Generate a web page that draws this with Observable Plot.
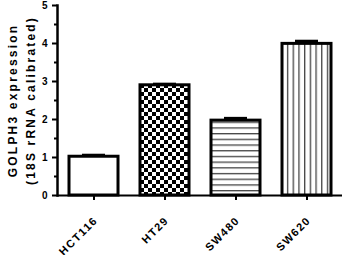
<!DOCTYPE html>
<html><head><meta charset="utf-8">
<script src="https://cdn.jsdelivr.net/npm/d3@7"></script>
<script src="https://cdn.jsdelivr.net/npm/@observablehq/plot@0.6"></script>
<style>body{margin:0;background:#fff} svg{overflow:visible}</style>
</head><body><div id="chart"></div>
<script>
const categories = ["HCT116", "HT29", "SW480", "SW620"];
const values = [1.02, 2.9, 1.97, 3.99];
const errors = [0.04, 0.03, 0.06, 0.07];
const fills = ["white", "url(#pCheck)", "url(#pHoriz)", "url(#pVert)"];
const yTicks = [0, 1, 2, 3, 4, 5];
const yMinorTicks = [0.5, 1.5, 2.5, 3.5, 4.5];
const yLabel = "GOLPH3 expression\n(18S rRNA calibrated)";

const data = categories.map((c, i) => ({cat: c, v: values[i], e: errors[i], top: values[i] + errors[i], fill: fills[i]}));

const chart = Plot.plot({
  width: 346, height: 255,
  marginLeft: 57, marginRight: 4, marginTop: 5, marginBottom: 60,
  style: {fontFamily: "'Liberation Sans', Arial, sans-serif", fontWeight: "bold", fontSize: "10px", color: "#000", background: "#fff"},
  x: {domain: categories, paddingInner: 0.31, paddingOuter: 0.16, label: null},
  y: {domain: [0, 5], label: null},
  color: {type: "identity"},
  marks: [
    Plot.barY(data, {x: "cat", y: "v", fill: "fill", stroke: "black", strokeWidth: 3}),
    Plot.ruleX(data, {x: "cat", y1: "v", y2: "top", stroke: "black", strokeWidth: 2}),
    Plot.tickY(data, {x: "cat", y: "top", stroke: "black", strokeWidth: 3, insetLeft: 13, insetRight: 13}),
    Plot.axisY({ticks: yMinorTicks, tickSize: 3, tickFormat: () => "", strokeWidth: 2}),
    Plot.axisY({ticks: yTicks, tickSize: 5, tickPadding: 5, tickFormat: "d", strokeWidth: 2, fontSize: 10}),
    Plot.axisX({tickSize: 5, tickFormat: () => "", strokeWidth: 2}),
    Plot.text(categories, {x: d => d, frameAnchor: "bottom", rotate: -45, dx: 2, dy: 23, textAnchor: "end", lineAnchor: "middle", fontSize: 11, clip: false, className: "xlab"}),
    Plot.ruleY([0], {stroke: "black", strokeWidth: 2}),
    Plot.frame({anchor: "left", stroke: "black", strokeWidth: 2.5}),
    Plot.text([yLabel], {frameAnchor: "left", rotate: -90, dx: -37, text: d => d, fontSize: 12, lineHeight: 1.45, textAnchor: "middle", lineAnchor: "middle", className: "ylab"})
  ]
});

const svg = d3.select(chart);
const defs = svg.insert("defs", ":first-child");
const pc = defs.append("pattern").attr("id", "pCheck").attr("patternUnits", "userSpaceOnUse").attr("width", 8).attr("height", 8);
pc.append("rect").attr("width", 8).attr("height", 8).attr("fill", "white");
pc.append("rect").attr("width", 4).attr("height", 4).attr("fill", "black");
pc.append("rect").attr("x", 4).attr("y", 4).attr("width", 4).attr("height", 4).attr("fill", "black");
const ph = defs.append("pattern").attr("id", "pHoriz").attr("patternUnits", "userSpaceOnUse").attr("width", 6).attr("height", 5.7);
ph.append("rect").attr("width", 6).attr("height", 5.7).attr("fill", "white");
ph.append("rect").attr("y", 2).attr("width", 6).attr("height", 1.2).attr("fill", "#333");
const pv = defs.append("pattern").attr("id", "pVert").attr("patternUnits", "userSpaceOnUse").attr("width", 5.7).attr("height", 6);
pv.append("rect").attr("width", 5.7).attr("height", 6).attr("fill", "white");
pv.append("rect").attr("x", 2).attr("width", 1.2).attr("height", 6).attr("fill", "#333");
svg.selectAll(".xlab text").style("letter-spacing", "1.5px");
svg.selectAll(".ylab text").style("letter-spacing", "2.2px");

document.getElementById("chart").appendChild(chart);
</script>
</body></html>
